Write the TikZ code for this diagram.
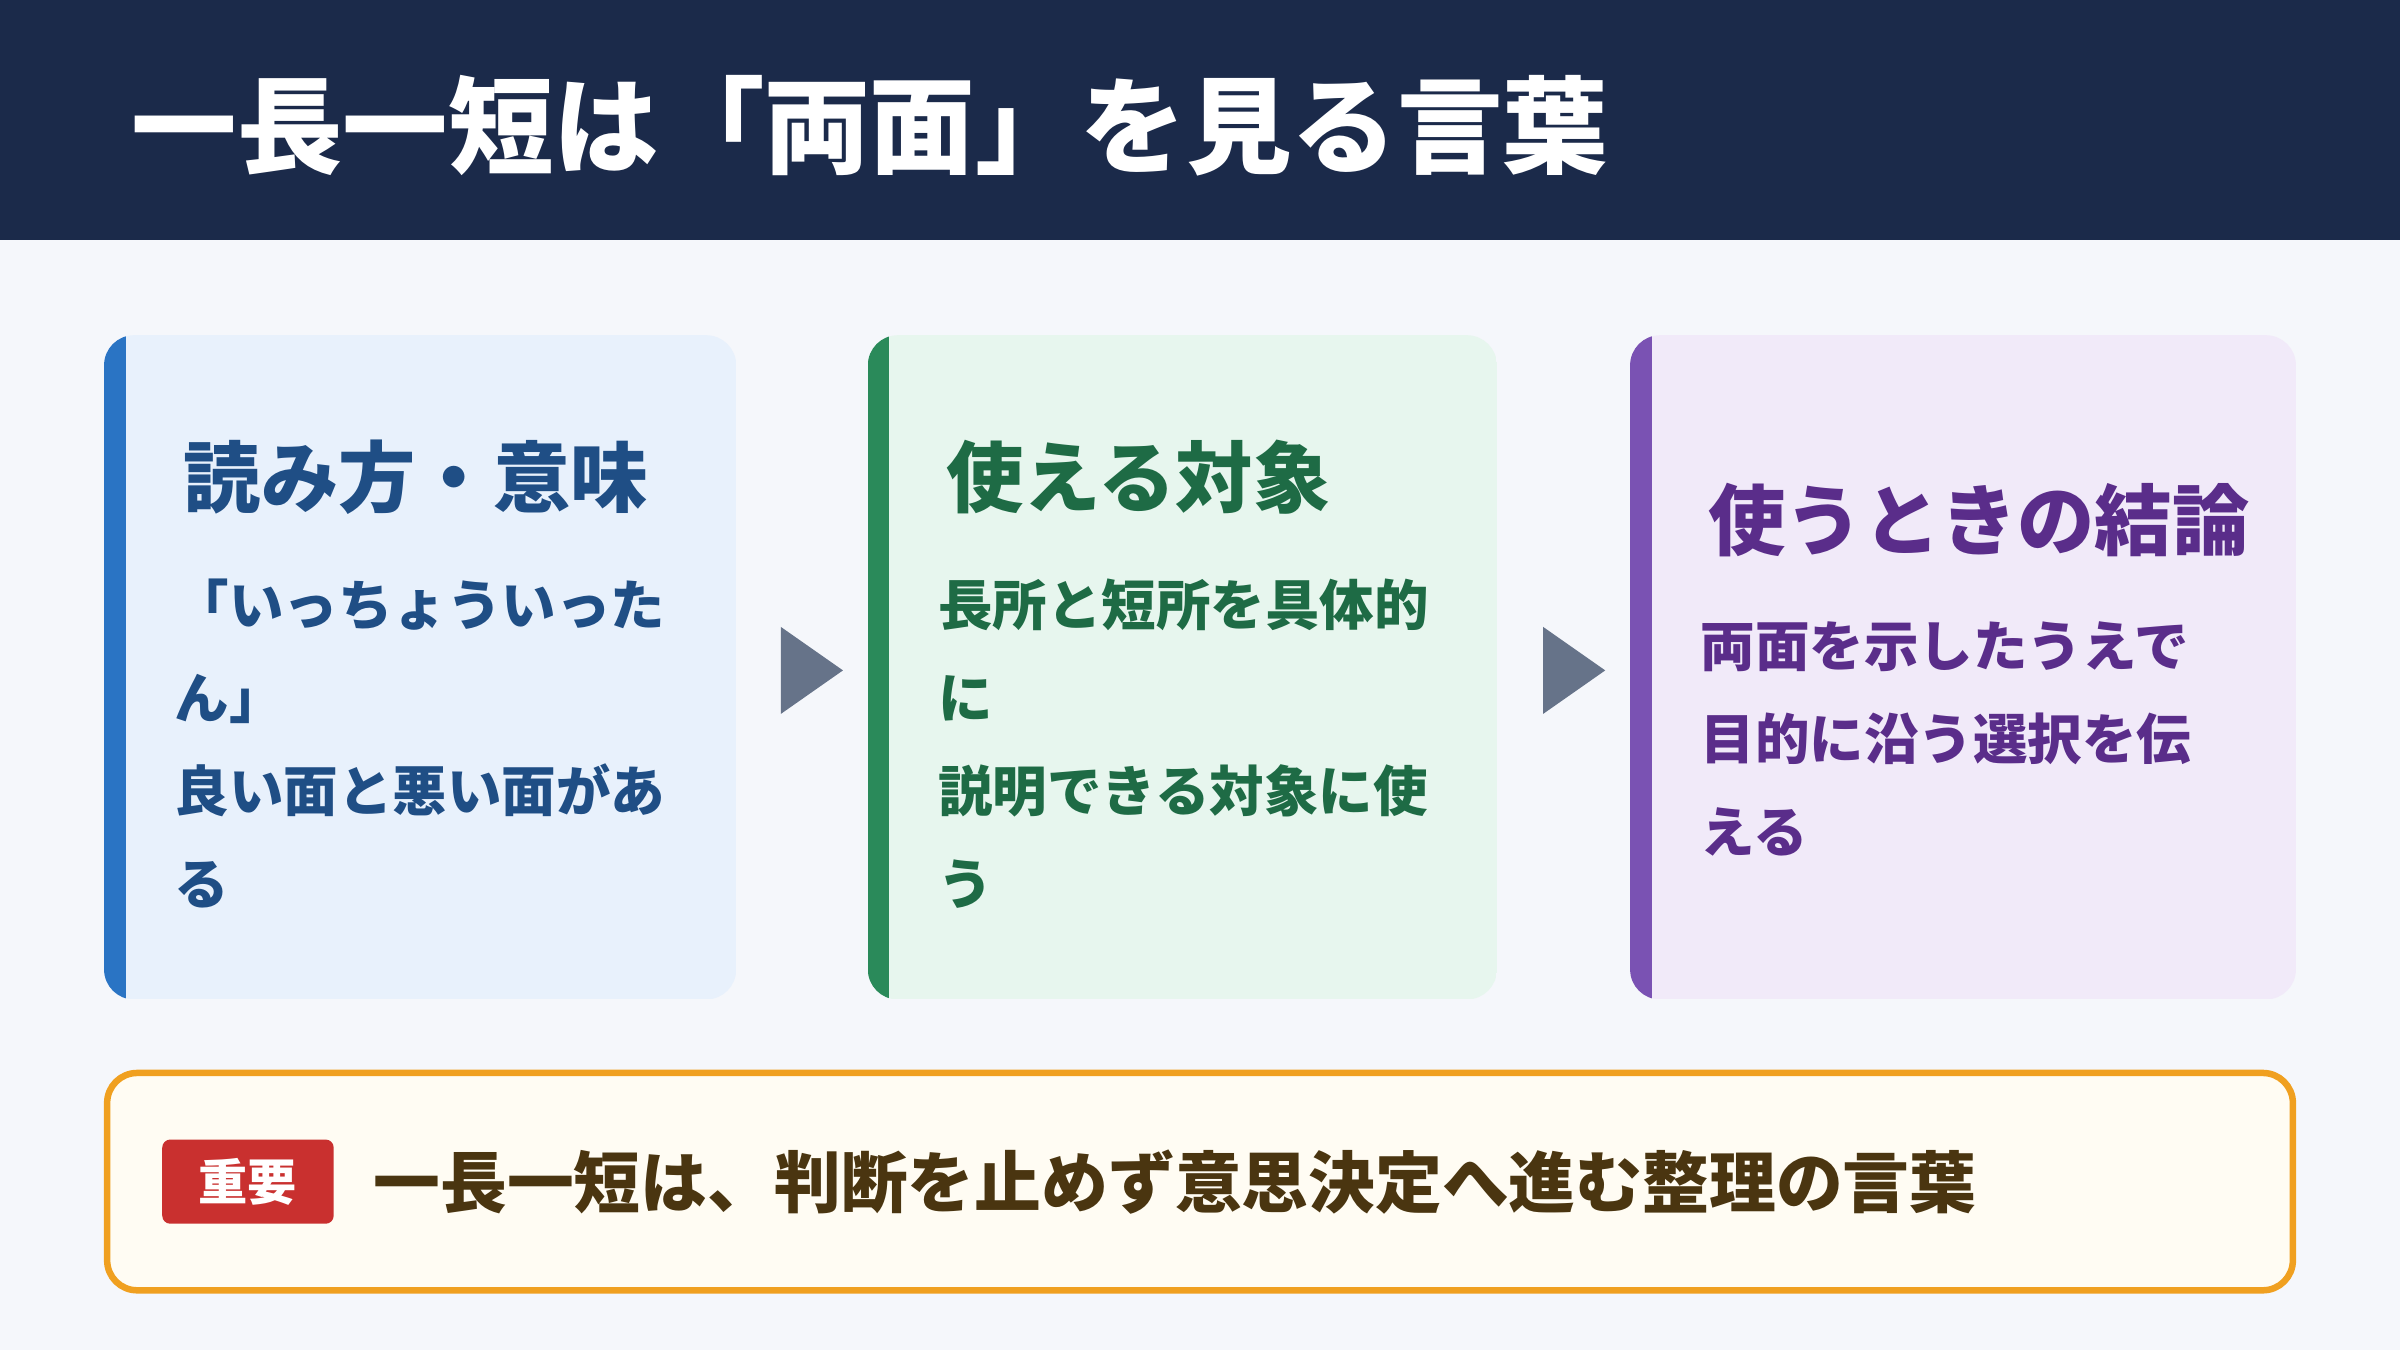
\documentclass[tikz,border=0pt]{standalone}
\usepackage{fontspec}
\newfontfamily\cjk{Noto Sans CJK JP}
\usetikzlibrary{positioning,shapes.geometric}
\definecolor{navy}{HTML}{1B2A4A}
\definecolor{bgc}{HTML}{F5F7FB}
\definecolor{fillA}{HTML}{E8F1FC}
\definecolor{fillB}{HTML}{E7F6EE}
\definecolor{fillC}{HTML}{F1EAF9}
\definecolor{barA}{HTML}{2A74C4}
\definecolor{barB}{HTML}{2A8A5A}
\definecolor{barC}{HTML}{7A52B3}
\definecolor{txtA}{HTML}{1F4E85}
\definecolor{txtB}{HTML}{1E6B45}
\definecolor{txtC}{HTML}{5A2D8A}
\definecolor{arrc}{HTML}{667389}
\definecolor{orng}{HTML}{F0A020}
\definecolor{cream}{HTML}{FFFCF3}
\definecolor{badge}{HTML}{C9302F}
\definecolor{brown}{HTML}{4A3510}
\tikzset{
  head/.style={anchor=west, font=\cjk\bfseries\fontsize{22}{26}\selectfont},
  body/.style={anchor=north west, align=left, font=\cjk\bfseries\fontsize{15.5}{26.5}\selectfont},
  arr/.style={isosceles triangle, fill=arrc, inner sep=0pt, minimum height=0.62cm, minimum width=0.72cm, isosceles triangle apex angle=70}
}
\def\card#1#2#3#4{%
  \begin{scope}
    \clip[rounded corners=0.3cm] (#1,219) rectangle (#2,653);
    \fill[#3] (#1,219) rectangle (#2,653);
    \fill[#4] (#1,219) rectangle ++(14,434);
  \end{scope}}

\begin{document}
\begin{tikzpicture}[x=0.15306mm, y=-0.15306mm]
  \useasboundingbox (0,0) rectangle (1568,882);
  \fill[bgc] (0,0) rectangle (1568,882);
  \fill[navy] (0,0) rectangle (1568,157);
  \node[anchor=west, white, font=\cjk\bfseries\fontsize{30}{36}\selectfont] (title) at (78,82) {一長一短は「両面」を見る言葉};

  %%% cards %%%
  \card{68}{481}{fillA}{barA}
  \card{567}{978}{fillB}{barB}
  \card{1065}{1500}{fillC}{barC}

  \node[head, txtA] (h1) at (112,312) {読み方・意味};
  \node[body, txtA] (b1) at (106,370) {「いっちょういった\\ん」\\良い面と悪い面があ\\る};

  \node[head, txtB] (h2) at (610,312) {使える対象};
  \node[body, txtB] (b2) at (605,370) {長所と短所を具体的\\に\\説明できる対象に使\\う};

  \node[head, txtC] (h3) at (1108,340) {使うときの結論};
  \node[body, txtC] (b3) at (1103,398) {両面を示したうえで\\目的に沿う選択を伝\\える};

  \node[arr] (a1) at (525,438) {};
  \node[arr] (a2) at (1023,438) {};

  %%% bottom %%%
  \draw[orng, line width=0.65mm, fill=cream, rounded corners=0.3cm] (70,701) rectangle (1498,843);
  \node[fill=badge, rounded corners=0.08cm, minimum width=112*0.15306mm, minimum height=55*0.15306mm,
        text=white, font=\cjk\bfseries\fontsize{14}{16}\selectfont] (tag) at (162,772) {重要};
  \node[anchor=west, brown, font=\cjk\bfseries\fontsize{19}{22}\selectfont] (msg) at (236,772) {一長一短は、判断を止めず意思決定へ進む整理の言葉};
\end{tikzpicture}
\end{document}
